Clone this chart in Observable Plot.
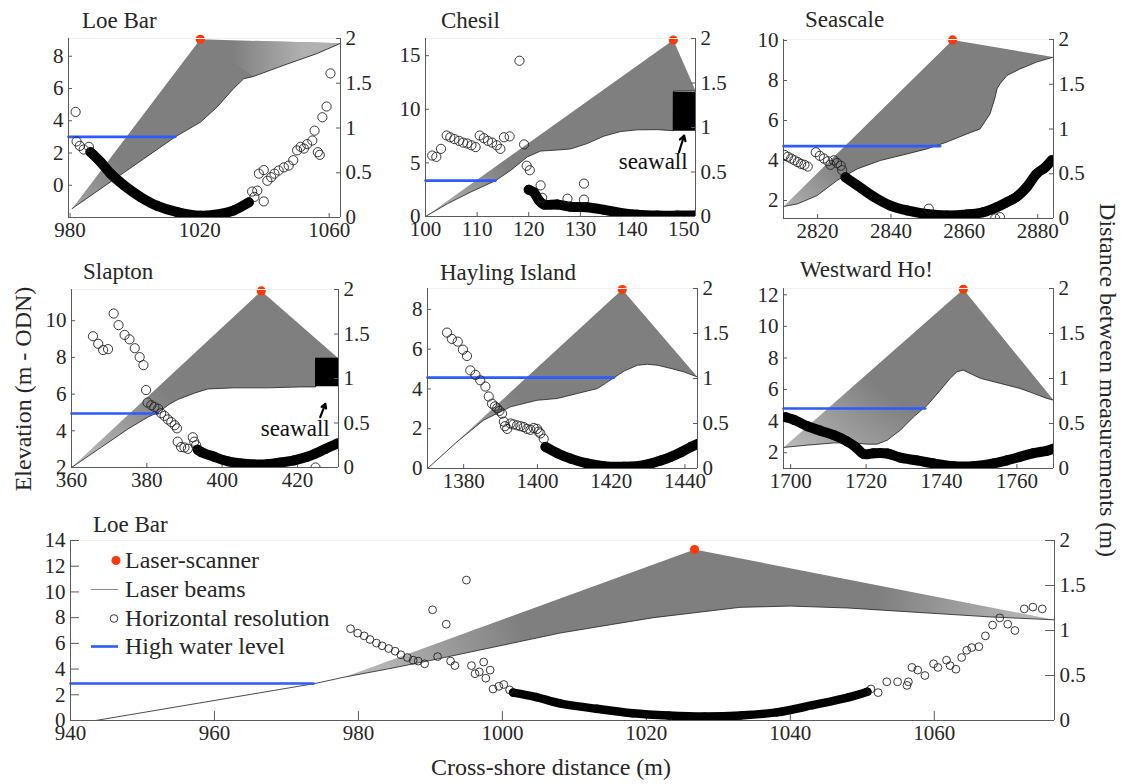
<!DOCTYPE html>
<html>
<head>
<meta charset="utf-8">
<script src="https://cdn.jsdelivr.net/npm/d3@7"></script>
<script src="https://cdn.jsdelivr.net/npm/@observablehq/plot@0.6"></script>
<style>
  html, body { margin: 0; padding: 0; background: #fff; }
  #fig { position: relative; width: 1126px; height: 784px; overflow: hidden; background: #fff;
         font-family: Liberation Serif, DejaVu Serif, Times New Roman, serif; }
  #fig svg { position: absolute; overflow: visible; }
  #fig svg text { font-family: Liberation Serif, DejaVu Serif, Times New Roman, serif; }
</style>
</head>
<body>
<div id="fig"></div>
<script>
// ---------- Loe Bar (upper panel) ----------
const loeA_profileX = [980.6, 1012.5, 1020.3, 1025.4, 1030.5, 1033.6, 1036.7, 1046, 1056.3, 1063.5];
const loeA_profileZ = [-1.45, 3.0, 3.92, 4.85, 6.0, 6.6, 6.75, 7.44, 8.17, 8.8];
const loeA_scanner = [1020.2, 9.05];
const loeA_hwl = [3.0, 1012.5];               // level, seaward end of the line
const loeA_bandX = [986.3, 989.4, 992.5, 996.6, 1001.7, 1006.9, 1013.1, 1020.3, 1026.4, 1030.6, 1035.2];
const loeA_bandR = [0.73, 0.62, 0.49, 0.36, 0.23, 0.13, 0.06, 0.02, 0.04, 0.08, 0.17];
const loeA_ptsX = [981.7, 982, 983, 984.2, 985.8, 1036.2, 1037.8, 1036.9, 1039.8, 1038.3, 1039.8, 1040.9, 1042.1, 1043.1, 1044.4, 1046, 1047.5, 1048.9, 1050.1, 1051.2, 1052.2, 1053.2, 1054.8, 1056.5, 1057.1, 1055.5, 1057.9, 1059.2, 1060.4];
const loeA_ptsR = [1.18, 0.85, 0.80, 0.76, 0.79, 0.29, 0.30, 0.23, 0.18, 0.49, 0.53, 0.41, 0.45, 0.49, 0.525, 0.56, 0.58, 0.64, 0.75, 0.79, 0.77, 0.82, 0.86, 0.73, 0.70, 0.97, 1.12, 1.24, 1.61];
const loeA_xTicks = [980, 1020, 1060];
const loeA_zTicks = [0, 2, 4, 6, 8];

// ---------- Chesil ----------
const chesil_profileX = [100, 104.2, 108.7, 113.6, 116.5, 119.7, 122.3, 125.5, 128.1, 131.3, 134.6, 137.8, 141, 144.9, 148, 148.05, 152.3];
const chesil_profileZ = [0, 1.18, 2.27, 3.35, 4.3, 5.55, 6.1, 6.2, 6.3, 6.8, 7.5, 7.92, 8.08, 8.1, 8.0, 11.7, 11.74];
const chesil_scanner = [148, 16.45];
const chesil_hwl = [3.35, 113.6];
const chesil_wallX = [148, 152.3];
const chesil_wallZ = [7.95, 11.6];
const chesil_bandX = [120.0, 121.0, 122.0, 122.9, 125.5, 128.1, 131.3, 134.6, 137.8, 141, 144.9, 148.8, 152.3];
const chesil_bandR = [0.30, 0.27, 0.18, 0.135, 0.135, 0.11, 0.105, 0.075, 0.04, 0.02, 0.01, 0.01, 0.01];
const chesil_ptsX = [101.3, 102.1, 103.0, 104.1, 104.8, 105.6, 106.5, 107.3, 108.1, 108.9, 109.7, 110.5, 111.3, 112.1, 112.9, 113.8, 114.5, 115.2, 116.3, 118.2, 119.1, 119.6, 120.2, 122.3, 130.7, 127.5, 130.7, 122.6];
const chesil_ptsR = [0.685, 0.67, 0.76, 0.91, 0.89, 0.87, 0.85, 0.83, 0.82, 0.80, 0.78, 0.91, 0.88, 0.85, 0.83, 0.80, 0.76, 0.89, 0.90, 1.75, 0.81, 0.57, 0.52, 0.35, 0.37, 0.20, 0.19, 0.21];
const chesil_xTicks = [100, 110, 120, 130, 140, 150];
const chesil_zTicks = [0, 5, 10, 15];

// ---------- Seascale ----------
const seascale_profileX = [2810.7, 2814.5, 2819.9, 2825.3, 2830.8, 2837.1, 2844.4, 2849.8, 2855.2, 2860.7, 2864.3, 2867, 2868.4, 2868.9, 2869.7, 2871.6, 2875.2, 2879.7, 2884.3];
const seascale_profileZ = [1.7, 1.83, 2.25, 3.0, 3.58, 4.0, 4.33, 4.58, 4.92, 5.33, 5.58, 6.33, 7.17, 7.58, 7.83, 8.25, 8.58, 8.92, 9.17];
const seascale_scanner = [2856.8, 10.03];
const seascale_hwl = [4.72, 2853.4];
const seascale_bandX = [2827.6, 2830.8, 2835.4, 2839.8, 2844.4, 2849.8, 2855.3, 2860.7, 2865.1, 2868.8, 2871.5, 2874.2, 2877, 2879.7, 2882, 2883.8];
const seascale_bandR = [0.46, 0.37, 0.24, 0.145, 0.09, 0.05, 0.034, 0.045, 0.07, 0.126, 0.18, 0.24, 0.35, 0.50, 0.57, 0.65];
const seascale_ptsX = [2811.0, 2811.9, 2812.8, 2813.7, 2814.6, 2815.5, 2816.4, 2817.3, 2819.5, 2820.6, 2821.7, 2822.8, 2823.5, 2824.4, 2825.3, 2826.3, 2826.7, 2850.3, 2868.4, 2869.7];
const seascale_ptsR = [0.71, 0.69, 0.67, 0.65, 0.63, 0.61, 0.60, 0.58, 0.74, 0.70, 0.67, 0.64, 0.60, 0.65, 0.62, 0.59, 0.54, 0.11, 0.0, 0.015];
const seascale_xTicks = [2820, 2840, 2860, 2880];
const seascale_zTicks = [2, 4, 6, 8, 10];

// ---------- Slapton ----------
const slapton_profileX = [360, 367.9, 375, 380.3, 383, 386, 388.2, 392.6, 396.2, 403.2, 412, 420.8, 424.8, 424.85, 430.9];
const slapton_profileZ = [2, 3.1, 4.1, 4.75, 5.0, 5.45, 5.7, 6.05, 6.28, 6.34, 6.34, 6.39, 6.39, 7.95, 7.95];
const slapton_scanner = [410.4, 11.62];
const slapton_hwl = [4.94, 382.9];
const slapton_wallX = [424.8, 430.9];
const slapton_wallZ = [6.4, 7.95];
const slapton_bandX = [393.5, 394.4, 397.9, 401.5, 405, 408.5, 412, 415.6, 419.1, 422.6, 424.8, 427.5, 430.6];
const slapton_bandR = [0.2, 0.175, 0.12, 0.07, 0.045, 0.034, 0.037, 0.056, 0.08, 0.12, 0.157, 0.21, 0.27];
const slapton_ptsX = [365.7, 367.1, 368.4, 369.7, 371.2, 372.5, 374.1, 375.4, 376.8, 378.1, 379.1, 379.8, 380.2, 381.2, 382.0, 383.0, 383.8, 384.7, 385.6, 386.5, 387.4, 388.0, 388.2, 389.1, 390.0, 390.9, 392.2, 392.6, 393.1, 424.8];
const slapton_ptsR = [1.475, 1.39, 1.32, 1.33, 1.73, 1.60, 1.49, 1.44, 1.34, 1.24, 1.15, 0.87, 0.73, 0.70, 0.68, 0.66, 0.61, 0.58, 0.54, 0.51, 0.475, 0.44, 0.29, 0.23, 0.225, 0.21, 0.34, 0.29, 0.25, 0.0];
const slapton_xTicks = [360, 380, 400, 420];
const slapton_zTicks = [2, 4, 6, 8, 10];

// ---------- Hayling Island ----------
const hayling_profileX = [1370.2, 1378.2, 1385.4, 1392.7, 1399.9, 1405.4, 1410.8, 1416.3, 1420.8, 1423.5, 1427.1, 1429.8, 1432.6, 1436.2, 1439.8, 1443.4];
const hayling_profileZ = [0, 1.34, 2.43, 3.1, 3.43, 3.52, 3.77, 4.02, 4.57, 4.9, 5.19, 5.24, 5.19, 5.03, 4.85, 4.6];
const hayling_scanner = [1423, 9.0];
const hayling_hwl = [4.57, 1420.8];
const hayling_bandX = [1402.2, 1405.4, 1409, 1413.5, 1418, 1423.5, 1428.9, 1433.5, 1436.2, 1438.9, 1441.6, 1443.9];
const hayling_bandR = [0.24, 0.17, 0.11, 0.056, 0.026, 0.02, 0.037, 0.09, 0.13, 0.18, 0.24, 0.28];
const hayling_ptsX = [1375.5, 1376.8, 1378.4, 1379.8, 1380.9, 1381.8, 1383.2, 1384.5, 1385.9, 1386.8, 1387.7, 1388.5, 1389.1, 1389.7, 1390.4, 1390.9, 1391.2, 1391.8, 1392.7, 1393.5, 1394.5, 1395.4, 1396.3, 1397.2, 1398.1, 1399, 1399.9, 1400.3, 1400.8, 1401.7];
const hayling_ptsR = [1.51, 1.44, 1.41, 1.32, 1.25, 1.09, 1.04, 0.98, 0.91, 0.80, 0.72, 0.69, 0.67, 0.64, 0.61, 0.52, 0.47, 0.44, 0.50, 0.49, 0.48, 0.47, 0.46, 0.44, 0.43, 0.45, 0.44, 0.41, 0.39, 0.33];
const hayling_xTicks = [1380, 1400, 1420, 1440];
const hayling_zTicks = [0, 2, 4, 6, 8];

// ---------- Westward Ho! ----------
const westward_profileX = [1698.1, 1704.4, 1711.5, 1716.8, 1720.3, 1722.9, 1725.6, 1729.1, 1732.6, 1736.2, 1739.7, 1742.3, 1744.1, 1745.8, 1747.6, 1750.3, 1755.6, 1760.8, 1764.4, 1767.9, 1769.7];
const westward_profileZ = [2.33, 2.48, 2.62, 2.62, 2.54, 2.54, 2.79, 3.43, 4.27, 5.0, 5.96, 6.71, 7.13, 7.23, 7.02, 6.71, 6.39, 6.07, 5.76, 5.44, 5.33];
const westward_scanner = [1745.8, 12.35];
const westward_hwl = [4.8, 1735.7];
const westward_bandX = [1698.7, 1700.9, 1704.4, 1707.9, 1711.5, 1715, 1717.2, 1719.4, 1722, 1725.6, 1729.1, 1733.5, 1737.9, 1743.2, 1748.5, 1753.8, 1757.3, 1760.8, 1764.4, 1767.9, 1769.7];
const westward_bandR = [0.57, 0.54, 0.47, 0.42, 0.37, 0.30, 0.24, 0.16, 0.17, 0.167, 0.12, 0.09, 0.056, 0.026, 0.026, 0.056, 0.09, 0.13, 0.17, 0.196, 0.22];
const westward_ptsX = [];
const westward_ptsR = [];
const westward_xTicks = [1700, 1720, 1740, 1760];
const westward_zTicks = [2, 4, 6, 8, 10, 12];

// ---------- Loe Bar (lower panel, with legend) ----------
const loeB_profileX = [943.5, 974, 978, 984, 990, 1000, 1008, 1015, 1021, 1027, 1033, 1040, 1048, 1058, 1068, 1076.7];
const loeB_profileZ = [0, 2.88, 3.37, 4.0, 4.67, 5.85, 6.8, 7.45, 8.0, 8.4, 8.8, 8.9, 8.75, 8.4, 8.05, 7.83];
const loeB_scanner = [1026.7, 13.3];
const loeB_hwl = [2.88, 973.8];
const loeB_bandX = [1001.5, 1004.7, 1008, 1013.1, 1018.1, 1023.1, 1028.1, 1033.1, 1038.1, 1043.1, 1048.2, 1050.7];
const loeB_bandR = [0.31, 0.26, 0.19, 0.13, 0.08, 0.055, 0.044, 0.055, 0.09, 0.17, 0.26, 0.32];
const loeB_ptsX = [978.9, 979.9, 980.8, 981.6, 982.5, 983.3, 984.2, 985.1, 985.9, 986.8, 987.6, 988.3, 989.2, 990.3, 991, 992.2, 992.8, 993.4, 995, 995.7, 996.2, 996.8, 997.4, 997.7, 998.3, 998.7, 999.5, 1000.2, 1001,
  1051.2, 1052.2, 1053.4, 1054.9, 1056.2, 1056.4, 1056.9, 1057.7, 1058.7, 1059.9, 1060.5, 1061.7, 1062.2, 1063, 1063.8, 1064.5, 1065.2, 1066.2, 1067.1, 1068.1, 1069.1, 1070.2, 1071.2, 1072.5, 1073.7, 1075];
const loeB_ptsR = [1.02, 0.97, 0.94, 0.90, 0.86, 0.83, 0.80, 0.77, 0.73, 0.70, 0.67, 0.66, 0.63, 1.23, 0.71, 1.07, 0.66, 0.61, 1.56, 0.61, 0.52, 0.54, 0.65, 0.47, 0.56, 0.35, 0.38, 0.40, 0.34,
  0.35, 0.31, 0.43, 0.43, 0.39, 0.43, 0.59, 0.56, 0.50, 0.63, 0.59, 0.67, 0.61, 0.57, 0.70, 0.78, 0.81, 0.82, 0.94, 1.06, 1.14, 1.07, 1.0, 1.24, 1.26, 1.24];
const loeB_xTicks = [940, 960, 980, 1000, 1020, 1040, 1060];
const loeB_zTicks = [0, 2, 4, 6, 8, 10, 12, 14];

// spacing axis (right) shared by all panels
const spacingTicks = [0, 0.5, 1, 1.5, 2];

// ---------- styling ----------
const SERIF = "Liberation Serif, DejaVu Serif, Times New Roman, serif";
const AXIS = "#5a5a5a", TEXT = "#262626";
const FAN_DARK = "#7f7f7f", FAN_LIGHT = "#b6b6b6";
const SCANNER = "#ff3a0a", WATER = "#2d5bff";

// ---------- layout: frame [left, top, right, bottom] in page pixels ----------
// shade: [r0, r1] pixel distances from the scanner over which the beam fan thins out
const panels = [
  {name: "Loe Bar", nameAt: [82, 28], frame: [68, 38, 340, 217], xDomain: [979.5, 1063.5], zDomain: [-2, 9.1],
   profileX: loeA_profileX, profileZ: loeA_profileZ, scanner: loeA_scanner, hwl: loeA_hwl,
   bandX: loeA_bandX, bandR: loeA_bandR, ptsX: loeA_ptsX, ptsR: loeA_ptsR, xTicks: loeA_xTicks, zTicks: loeA_zTicks,
   shade: [150, 240], wedge: {from: 1036, fade: [1030, 1052]}, tick: 4, dotR: 4.6, bandW: 10},
  {name: "Chesil", nameAt: [441, 28], frame: [425, 38, 695, 216], xDomain: [100, 152.3], zDomain: [0, 16.6],
   profileX: chesil_profileX, profileZ: chesil_profileZ, scanner: chesil_scanner, hwl: chesil_hwl,
   bandX: chesil_bandX, bandR: chesil_bandR, ptsX: chesil_ptsX, ptsR: chesil_ptsR, xTicks: chesil_xTicks, zTicks: chesil_zTicks,
   wallX: chesil_wallX, wallZ: chesil_wallZ, note: {at: [144.1, 4.47], arrow: [149.1, 5.99, 150.1, 7.55]},
   shade: [210, 300], tick: 4, dotR: 4.6, bandW: 10},
  {name: "Seascale", nameAt: [805, 27], frame: [783, 39, 1053, 218], xDomain: [2810.7, 2884.3], zDomain: [1.1, 10.05],
   profileX: seascale_profileX, profileZ: seascale_profileZ, scanner: seascale_scanner, hwl: seascale_hwl,
   bandX: seascale_bandX, bandR: seascale_bandR, ptsX: seascale_ptsX, ptsR: seascale_ptsR, xTicks: seascale_xTicks, zTicks: seascale_zTicks,
   shade: [165, 245], tick: 4, dotR: 4.6, bandW: 10},
  {name: "Slapton", nameAt: [83, 279], frame: [71, 289, 338, 467], xDomain: [360, 430.9], zDomain: [2, 11.7],
   profileX: slapton_profileX, profileZ: slapton_profileZ, scanner: slapton_scanner, hwl: slapton_hwl,
   bandX: slapton_bandX, bandR: slapton_bandR, ptsX: slapton_ptsX, ptsR: slapton_ptsR, xTicks: slapton_xTicks, zTicks: slapton_zTicks,
   wallX: slapton_wallX, wallZ: slapton_wallZ, note: {at: [419.4, 3.74], arrow: [426.05, 4.74, 427.4, 5.47]},
   shade: [140, 240], tick: 4, dotR: 4.6, bandW: 10},
  {name: "Hayling Island", nameAt: [440, 280], frame: [427, 288, 697, 468], xDomain: [1370.2, 1443.4], zDomain: [0, 9.05],
   profileX: hayling_profileX, profileZ: hayling_profileZ, scanner: hayling_scanner, hwl: hayling_hwl,
   bandX: hayling_bandX, bandR: hayling_bandR, ptsX: hayling_ptsX, ptsR: hayling_ptsR, xTicks: hayling_xTicks, zTicks: hayling_zTicks,
   shade: [150, 250], tick: 4, dotR: 4.6, bandW: 10},
  {name: "Westward Ho!", nameAt: [800, 277], frame: [783, 288, 1053, 468], xDomain: [1698.1, 1769.7], zDomain: [1, 12.4],
   profileX: westward_profileX, profileZ: westward_profileZ, scanner: westward_scanner, hwl: westward_hwl,
   bandX: westward_bandX, bandR: westward_bandR, ptsX: westward_ptsX, ptsR: westward_ptsR, xTicks: westward_xTicks, zTicks: westward_zTicks,
   shade: [130, 230], tick: 4, dotR: 4.6, bandW: 10},
  {name: "Loe Bar", nameAt: [93, 532], frame: [70, 540, 1054, 720], xDomain: [940, 1076.7], zDomain: [0, 14],
   profileX: loeB_profileX, profileZ: loeB_profileZ, scanner: loeB_scanner, hwl: loeB_hwl,
   bandX: loeB_bandX, bandR: loeB_bandR, ptsX: loeB_ptsX, ptsR: loeB_ptsR, xTicks: loeB_xTicks, zTicks: loeB_zTicks,
   beamsFrom: 978, shade: [190, 340], tick: 9, dotR: 3.9, bandW: 8.5}
];

const fig = document.getElementById("fig");
const M = {l: 60, r: 60, t: 14, b: 42};
const fmt = d => String(d);

function place(svg, L, T) {
  svg.style.position = "absolute";
  svg.style.left = (L - M.l) + "px";
  svg.style.top = (T - M.t) + "px";
  fig.appendChild(svg);
}

function drawPanel(p, k) {
  const [L, T, R, B] = p.frame;
  const fw = R - L, fh = B - T;
  const size = {width: fw + M.l + M.r, height: fh + M.t + M.b,
    marginLeft: M.l, marginRight: M.r, marginTop: M.t, marginBottom: M.b,
    style: {background: "transparent", fontFamily: SERIF, fontSize: "21px", color: TEXT, overflow: "visible"}};

  const profile = p.profileX.map((x, i) => ({x, z: p.profileZ[i]}));
  const s = {x: p.scanner[0], z: p.scanner[1]};
  const seen = profile.filter(d => p.beamsFrom == null || d.x >= p.beamsFrom);
  const fan = [s, ...seen, s];
  const water = [{x: p.xDomain[0], z: p.hwl[0]}, {x: p.hwl[1], z: p.hwl[0]}];
  const fanId = `fan-${k}`, wedgeId = `wedge-${k}`;

  const marks = [
    // laser beams: the fan from the scanner to every surveyed point of the profile
    Plot.line(fan, {x: "x", y: "z", fill: `url(#${fanId})`, stroke: "none", clip: true})
  ];
  if (p.wedge) {
    const wedge = [s, ...seen.filter(d => d.x >= p.wedge.from), s];
    marks.push(Plot.line(wedge, {x: "x", y: "z", fill: `url(#${wedgeId})`, stroke: "none", clip: true}));
  }
  marks.push(Plot.line(profile, {x: "x", y: "z", stroke: "#1e1e1e", strokeWidth: 0.8, clip: true}));
  if (p.wallX) {
    marks.push(Plot.rect([0], {x1: () => p.wallX[0], x2: () => p.wallX[1], y1: () => p.wallZ[0], y2: () => p.wallZ[1], fill: "#000"}));
  }
  if (p.note) {
    const a = p.note.arrow;
    marks.push(Plot.arrow([0], {x1: () => a[0], y1: () => a[1], x2: () => a[2], y2: () => a[3], stroke: "#000", strokeWidth: 2.2, headLength: 7}));
    marks.push(Plot.text(["seawall"], {x: () => p.note.at[0], y: () => p.note.at[1], text: d => d, fontSize: 23, lineAnchor: "bottom", fill: "#111"}));
  }
  marks.push(
    Plot.line(water, {x: "x", y: "z", stroke: WATER, strokeWidth: 2.6}),
    Plot.dot([s], {x: "x", y: "z", r: 4.6, fill: SCANNER, stroke: "none"}),
    // axes: spines, inward ticks, labels
    Plot.ruleY([p.zDomain[1]], {stroke: "#f2f2f2"}),
    Plot.ruleX([p.xDomain[0]], {stroke: AXIS}),
    Plot.ruleY([p.zDomain[0]], {stroke: AXIS}),
    Plot.tickY(p.zTicks, {y: d => d, insetRight: fw - p.tick, stroke: AXIS}),
    Plot.tickX(p.xTicks, {x: d => d, insetTop: fh - p.tick, stroke: AXIS}),
    Plot.axisY({ticks: p.zTicks, anchor: "left", tickSize: 0, tickPadding: 5, tickFormat: fmt, label: null}),
    Plot.axisX({ticks: p.xTicks, anchor: "bottom", tickSize: 0, tickPadding: 5, tickFormat: fmt, label: null})
  );
  const elev = Plot.plot({...size, x: {domain: p.xDomain, label: null}, y: {domain: p.zDomain, label: null}, marks});

  // beam density falls off with range from the scanner: dark near it, paler far away
  const xs = elev.scale("x"), ys = elev.scale("y");
  const cx = xs.apply(s.x), cy = ys.apply(s.z);
  const defs = d3.select(elev).insert("defs", ":first-child");
  const rg = defs.append("radialGradient").attr("id", fanId).attr("gradientUnits", "userSpaceOnUse")
    .attr("cx", cx).attr("cy", cy).attr("r", p.shade[1]);
  rg.append("stop").attr("offset", p.shade[0] / p.shade[1]).attr("stop-color", FAN_DARK);
  rg.append("stop").attr("offset", 1).attr("stop-color", FAN_LIGHT);
  if (p.wedge) {
    const lg = defs.append("linearGradient").attr("id", wedgeId).attr("gradientUnits", "userSpaceOnUse")
      .attr("x1", xs.apply(p.wedge.fade[0])).attr("x2", xs.apply(p.wedge.fade[1])).attr("y1", 0).attr("y2", 0);
    lg.append("stop").attr("offset", 0).attr("stop-color", FAN_LIGHT).attr("stop-opacity", 0);
    lg.append("stop").attr("offset", 1).attr("stop-color", FAN_LIGHT).attr("stop-opacity", 0.9);
  }
  place(elev, L, T);

  const band = p.bandX.map((x, i) => ({x, r: p.bandR[i]}));
  const pts = p.ptsX.map((x, i) => ({x, r: p.ptsR[i]}));
  const spacing = Plot.plot({...size,
    x: {domain: p.xDomain, label: null, axis: null},
    y: {domain: [0, 2], label: null},
    marks: [
      Plot.line(band, {x: "x", y: "r", stroke: "#000", strokeWidth: p.bandW, curve: "catmull-rom", clip: true}),
      Plot.dot(band, {x: "x", y: "r", r: p.dotR, stroke: "#000", strokeWidth: 0.9, clip: true}),
      Plot.dot(pts, {x: "x", y: "r", r: p.dotR, stroke: "#222", strokeWidth: 0.9, clip: true}),
      Plot.ruleX([p.xDomain[1]], {stroke: AXIS}),
      Plot.tickY(spacingTicks, {y: d => d, insetLeft: fw - p.tick, stroke: AXIS}),
      Plot.axisY({ticks: spacingTicks, anchor: "right", tickSize: 0, tickPadding: 5, tickFormat: fmt, label: null})
    ]
  });
  place(spacing, L, T);
}

panels.forEach(drawPanel);

// ---------- titles, axis titles and legend ----------
const over = d3.select(fig).append("svg")
  .attr("width", 1126).attr("height", 784)
  .style("left", "0px").style("top", "0px")
  .style("font-family", SERIF).attr("fill", TEXT);

panels.forEach(p => {
  over.append("text").attr("x", p.nameAt[0]).attr("y", p.nameAt[1]).attr("font-size", 23).text(p.name);
});

over.append("text").attr("transform", "translate(31,389) rotate(-90)").attr("text-anchor", "middle").attr("font-size", 24).text("Elevation (m - ODN)");
over.append("text").attr("transform", "translate(1100,380) rotate(90)").attr("text-anchor", "middle").attr("font-size", 24).text("Distance between measurements (m)");
over.append("text").attr("x", 551).attr("y", 775).attr("text-anchor", "middle").attr("font-size", 24).text("Cross-shore distance (m)");

const legend = over.append("g").attr("font-size", 24);
const rows = [
  {label: "Laser-scanner", y: 568, key: "scanner"},
  {label: "Laser beams", y: 597, key: "beam"},
  {label: "Horizontal resolution", y: 626, key: "res"},
  {label: "High water level", y: 654, key: "water"}
];
rows.forEach(r => {
  const cy = r.y - 7.5;
  if (r.key === "scanner") legend.append("circle").attr("cx", 116).attr("cy", cy).attr("r", 4.5).attr("fill", SCANNER);
  if (r.key === "beam") legend.append("line").attr("x1", 91).attr("x2", 118).attr("y1", cy).attr("y2", cy).attr("stroke", "#6f6f6f").attr("stroke-width", 0.8);
  if (r.key === "res") legend.append("circle").attr("cx", 114).attr("cy", cy).attr("r", 3.8).attr("fill", "none").attr("stroke", "#222").attr("stroke-width", 0.9);
  if (r.key === "water") legend.append("line").attr("x1", 91).attr("x2", 118).attr("y1", cy).attr("y2", cy).attr("stroke", WATER).attr("stroke-width", 2.6);
  legend.append("text").attr("x", 125).attr("y", r.y).text(r.label);
});
</script>
</body>
</html>
